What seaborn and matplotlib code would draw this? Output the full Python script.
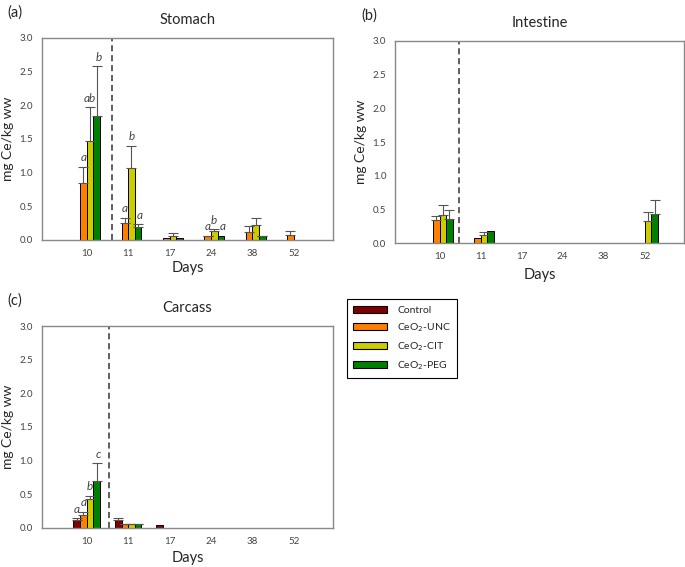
import numpy as np
import pandas as pd
import matplotlib
matplotlib.use("Agg")
import matplotlib.pyplot as plt
import seaborn as sns

days = ["10", "11", "17", "24", "38", "52"]
treatments = ["Control", "CeO$_2$-UNC", "CeO$_2$-CIT", "CeO$_2$-PEG"]
colors = ["#7f0000", "#ff8000", "#cccc00", "#008000"]
nan = np.nan

# rows = treatments, columns = days
stomach_mean = [[nan, nan, nan, nan, nan, nan],
                [0.85, 0.25, 0.03, 0.05, 0.12, 0.07],
                [1.47, 1.07, 0.06, 0.13, 0.22, nan],
                [1.84, 0.19, 0.025, 0.06, 0.05, nan]]
stomach_err = [[nan, nan, nan, nan, nan, nan],
               [0.24, 0.08, nan, 0.01, 0.09, 0.06],
               [0.50, 0.33, 0.035, 0.03, 0.10, nan],
               [0.74, 0.04, nan, nan, 0.01, nan]]
stomach_letters = [["", "", "", "", "", ""],
                   ["a", "a", "", "a", "", ""],
                   ["ab", "b", "", "b", "", ""],
                   ["b", "a", "", "a", "", ""]]

intestine_mean = [[nan, nan, 0.006, 0.006, 0.006, nan],
                  [0.34, 0.08, 0.006, 0.006, 0.006, 0.006],
                  [0.42, 0.12, 0.006, 0.006, 0.006, 0.33],
                  [0.36, 0.18, 0.006, 0.006, 0.006, 0.43]]
intestine_err = [[nan, nan, nan, nan, nan, nan],
                 [0.06, nan, nan, nan, nan, nan],
                 [0.14, 0.05, nan, nan, nan, 0.14],
                 [0.14, nan, nan, nan, nan, 0.21]]

carcass_mean = [[0.11, 0.12, 0.045, nan, nan, nan],
                [0.19, 0.055, nan, nan, nan, nan],
                [0.43, 0.055, nan, nan, nan, nan],
                [0.70, 0.055, nan, nan, nan, nan]]
carcass_err = [[0.03, 0.03, nan, nan, nan, nan],
               [0.05, 0.01, nan, nan, nan, nan],
               [0.05, 0.01, nan, nan, nan, nan],
               [0.26, 0.01, nan, nan, nan, nan]]
carcass_letters = [["a", "", "", "", "", ""],
                   ["a", "", "", "", "", ""],
                   ["b", "", "", "", "", ""],
                   ["c", "", "", "", "", ""]]

sns.set_style("white")
plt.rcParams['font.family'] = ['Lato', 'DejaVu Sans']

fig = plt.figure(figsize=(6.85, 5.67), dpi=100)


def tidy(mean):
    rows = []
    for t, trt in enumerate(treatments):
        for d, day in enumerate(days):
            if not np.isnan(mean[t][d]):
                rows.append({"day": day, "trt": trt, "val": mean[t][d]})
    return pd.DataFrame(rows)


def panel(rect, mean, err, letters, title, tag, dash_x, days_y):
    ax = fig.add_axes(rect)
    df = tidy(mean)
    sns.barplot(data=df, x="day", y="val", hue="trt", order=days,
                hue_order=treatments, palette=colors, width=0.64,
                edgecolor="black", linewidth=0.7, errorbar=None,
                legend=False, ax=ax, saturation=1)
    w = 0.16
    for p in ax.patches:
        h = p.get_height()
        if np.isnan(h):
            continue
        cx = p.get_x() + p.get_width() / 2
        d = int(round(cx))
        t = int(round((cx - d) / w + 1.5))
        if t < 0 or t > 3:
            continue
        e = err[t][d]
        top = h
        if not np.isnan(e):
            ax.errorbar(cx, h, yerr=[[0], [e]], fmt="none", ecolor="#555555",
                        elinewidth=0.8, capsize=3.5, capthick=0.8)
            top = h + e
        if letters is not None and letters[t][d]:
            dx = 0.05 if t == 3 else 0.0
            ax.text(cx + dx, top + 0.05, letters[t][d], ha="center",
                    va="bottom", fontsize=8.5, style="italic",
                    color="#444444")
    ax.axvline(dash_x, color="#333333", ls=(0, (4, 2.5)), lw=1.1)
    ax.set_xlim(-1.08, 5.95)
    ax.set_ylim(0, 3.0)
    ax.set_yticks(np.arange(0, 3.01, 0.5))
    ax.set_yticklabels([f"{v:.1f}" for v in np.arange(0, 3.01, 0.5)])
    ax.tick_params(axis="both", labelsize=7, colors="#444444",
                   length=3, width=0.6, direction="out")
    for s in ax.spines.values():
        s.set_color("#888888")
        s.set_linewidth(1.0)
    ax.set_xlabel("")
    ax.set_ylabel("mg Ce/kg ww", fontsize=10, labelpad=4)
    ax.set_title(title, fontsize=10.5, pad=10)
    fig.text(rect[0] - 0.05, rect[1] + rect[3] + 0.045, tag, fontsize=10.5,
             ha="left", va="center")
    fig.text(rect[0] + rect[2] / 2, days_y, "Days", fontsize=10.5,
             ha="center", va="center")
    return ax


panel([0.0613, 0.577, 0.425, 0.356], stomach_mean, stomach_err,
      stomach_letters, "Stomach", "(a)", 0.6, 1 - 268 / 567)
panel([0.577, 0.571, 0.421, 0.357], intestine_mean, intestine_err,
      None, "Intestine", "(b)", 0.48, 1 - 275 / 567)
panel([0.0613, 0.069, 0.425, 0.356], carcass_mean, carcass_err,
      carcass_letters, "Carcass", "(c)", 0.53, 1 - 558 / 567)

handles = [plt.Rectangle((0, 0), 1, 1, facecolor=c, edgecolor="black",
                         linewidth=0.8) for c in colors]
leg = fig.legend(handles, treatments, loc="upper left",
                 bbox_to_anchor=(0.499, 0.481), fontsize=7.5,
                 handlelength=3.2, handleheight=0.7, handletextpad=1.0,
                 labelspacing=0.6, borderpad=0.6, fancybox=False,
                 edgecolor="black", framealpha=1)
leg.get_frame().set_linewidth(0.8)

fig.savefig("out.png", dpi=100)
